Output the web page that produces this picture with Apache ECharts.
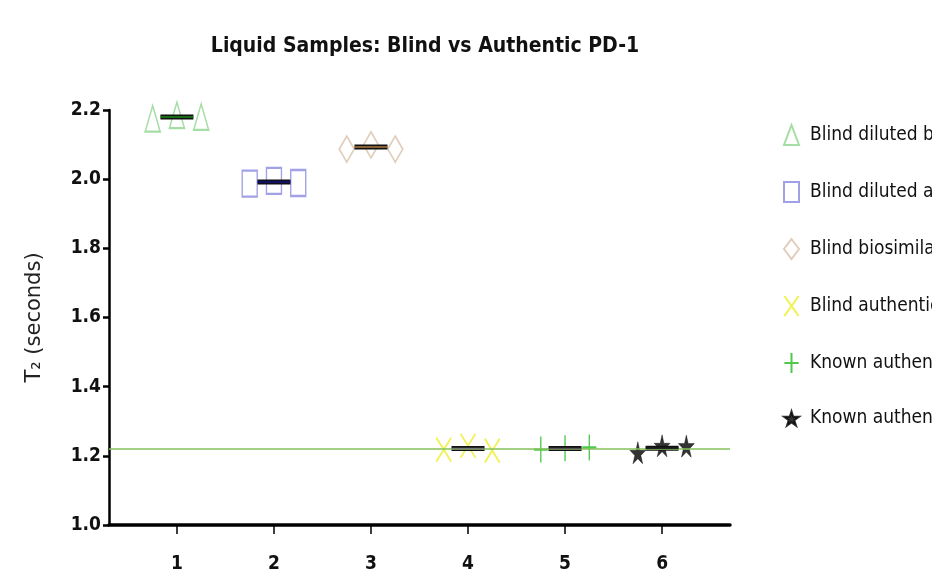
<!DOCTYPE html>
<html>
<head>
<meta charset="utf-8">
<script src="https://cdn.jsdelivr.net/npm/echarts@6/dist/echarts.min.js"></script>
<style>
  html, body { margin: 0; padding: 0; background: #fff; }
  #chart { width: 932px; height: 573px; }
</style>
</head>
<body>
<div id="chart"></div>
<script>
var NARROW = "'Liberation Sans Narrow', 'Arial Narrow', 'DejaVu Sans Condensed', sans-serif";

// groups (x positions 1..6) and legend names
var groupNames = ['Blind diluted biosimilar', 'Blind diluted authentic', 'Blind biosimilar',
  'Blind authentic', 'Known authentic 1', 'Known authentic 2'];
var groupX = [1, 2, 3, 4, 5, 6];
var jitter = [-0.25, 0, 0.25];

// T2 values per group (three replicates each)
var g1 = [2.175, 2.185, 2.18];
var g2 = [1.987, 1.995, 1.989];
var g3 = [2.087, 2.099, 2.087];
var g4 = [1.218, 1.229, 1.215];
var g5 = [1.218, 1.222, 1.224];
var g6 = [1.209, 1.229, 1.228];
var groupValues = [g1, g2, g3, g4, g5, g6];

// means drawn as bars
var groupMeans = [2.18, 1.992, 2.093, 1.221, 1.221, 1.222];
var refLine = 1.222;

var xTicks = [1, 2, 3, 4, 5, 6];

var colors = ['#8fd68f', '#8a8ae0', '#d8c2aa', '#eeee22', '#22bb22', '#000000'];
var innerColors = ['#1a8a1a', '#10108a', '#b07a40', '#777777', '#555555', '#222222'];
var symbols = [
  'triangle',
  'rect',
  'diamond',
  'path://M0,0L10,14M10,0L0,14',
  'path://M5,0L5,14M0,7L10,7',
  'path://M50,0L61,35L98,35L68,57L79,91L50,70L21,91L32,57L2,35L39,35Z'
];
var sizes = [[15, 26], [15, 26], [15, 26], [15, 24], [14, 26], [16, 22]];

var series = [];
groupValues.forEach(function (vals, i) {
  var filled = i === 5;
  series.push({
    name: groupNames[i],
    type: 'scatter',
    symbol: symbols[i],
    symbolSize: sizes[i],
    z: 3,
    itemStyle: {
      color: filled ? colors[i] : 'rgba(0,0,0,0)',
      borderColor: colors[i],
      borderWidth: filled ? 0.5 : 1.8
    },
    data: vals.map(function (v, k) { return [groupX[i] + jitter[k], v]; }),
    markLine: i === 0 ? {
      silent: true,
      symbol: 'none',
      label: { show: false },
      lineStyle: { color: '#86c05a', width: 1.5, type: 'solid' },
      data: [{ yAxis: refLine }]
    } : undefined
  });
});
groupMeans.forEach(function (m, i) {
  var seg = [[groupX[i] - 0.17, m], [groupX[i] + 0.17, m]];
  series.push({
    type: 'line', silent: true, symbol: 'none', z: 4,
    lineStyle: { color: '#111', width: 5 }, data: seg
  });
  series.push({
    type: 'line', silent: true, symbol: 'none', z: 5,
    lineStyle: { color: innerColors[i], width: 1.5 }, data: seg
  });
});

var chart = echarts.init(document.getElementById('chart'));
chart.setOption({
  animation: false,
  title: {
    text: 'Liquid Samples: Blind vs Authentic PD-1',
    left: 420, top: 31, textAlign: 'center',
    textStyle: { fontFamily: NARROW, fontSize: 21, fontWeight: 'bold', color: '#111' }
  },
  legend: {
    data: groupNames,
    orient: 'vertical',
    left: 778, top: 119,
    itemWidth: 15, itemHeight: 20, itemGap: 35,
    textStyle: { fontFamily: NARROW, fontSize: 19, color: '#111', padding: [0, 0, 0, 6] }
  },
  grid: { left: 109, right: 202, top: 110, bottom: 48, outerBoundsMode: 'none' },
  xAxis: {
    type: 'value', min: 0.3, max: 6.7,
    axisLine: { lineStyle: { color: '#000', width: 3.5 } },
    axisTick: { customValues: xTicks, length: 9, lineStyle: { color: '#000', width: 1.5 } },
    axisLabel: { customValues: xTicks, margin: 30, fontFamily: NARROW, fontSize: 19, fontWeight: 'bold', color: '#111' },
    splitLine: { show: false }
  },
  yAxis: {
    type: 'value', min: 1.0, max: 2.2, interval: 0.2,
    name: 'T\u2082 (seconds)', nameLocation: 'middle', nameGap: 64, nameRotate: 90,
    nameTextStyle: { fontFamily: 'DejaVu Sans', fontSize: 21, color: '#222' },
    axisLine: { show: true, lineStyle: { color: '#000', width: 2.5 } },
    axisTick: { show: true, length: 6, lineStyle: { color: '#000', width: 2.5 } },
    axisLabel: {
      margin: 8, fontFamily: NARROW, fontSize: 19, fontWeight: 'bold', color: '#111',
      formatter: function (v) { return v.toFixed(1); }
    },
    splitLine: { show: false }
  },
  series: series
});
</script>
</body>
</html>
